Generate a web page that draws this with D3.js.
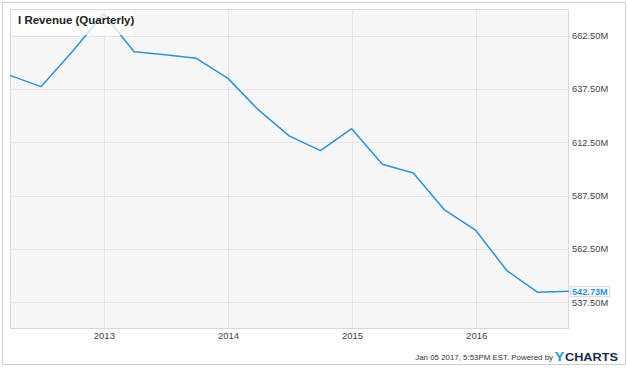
<!DOCTYPE html>
<html>
<head>
<meta charset="utf-8">
<script src="https://cdn.jsdelivr.net/npm/d3@7"></script>
<style>
  html, body { margin: 0; padding: 0; background: #ffffff; }
  svg { display: block; font-family: "Liberation Sans", Arial, sans-serif; }
</style>
</head>
<body>
<svg id="chart" width="628" height="368"></svg>
<script>
// ---- data ----
const quarterDates = [
  "2012-03-31","2012-06-30","2012-09-30","2012-12-31",
  "2013-03-31","2013-06-30","2013-09-30","2013-12-31",
  "2014-03-31","2014-06-30","2014-09-30","2014-12-31",
  "2015-03-31","2015-06-30","2015-09-30","2015-12-31",
  "2016-03-31","2016-06-30","2016-09-30"
];
const revenueM = [
  643.9, 638.6, 655.0, 672.8,
  655.0, 653.6, 651.9, 642.6,
  627.8, 615.5, 608.6, 618.9,
  602.2, 598.1, 580.8, 571.2,
  552.4, 542.2, 542.73
];
const yTickValues = [537.5, 562.5, 587.5, 612.5, 637.5, 662.5];
const xTickYears = [2013, 2014, 2015, 2016];
const titleText = "I Revenue (Quarterly)";
const lastLabel = "542.73M";
const footerText = "Jan 05 2017, 5:53PM EST. Powered by ";

// ---- layout ----
const svg = d3.select("#chart");
const plot = { left: 10, right: 569, top: 9, bottom: 329 };
const parse = d3.utcParse("%Y-%m-%d");
const data = quarterDates.map((d, i) => ({ date: parse(d), value: revenueM[i] }));

const x = d3.scaleUtc()
  .domain([data[0].date, data[data.length - 1].date])
  .range([plot.left, plot.right]);
const y = d3.scaleLinear().domain([525, 675]).range([plot.bottom, plot.top]);

// outer frame
svg.append("rect")
  .attr("x", 2.5).attr("y", 2.5).attr("width", 623).attr("height", 362)
  .attr("fill", "#ffffff").attr("stroke", "#cfcfcf").attr("stroke-width", 1);

// plot background
svg.append("rect")
  .attr("x", plot.left).attr("y", plot.top)
  .attr("width", plot.right - plot.left).attr("height", plot.bottom - plot.top)
  .attr("fill", "#f7f7f7");

// gridlines
const grid = svg.append("g");
grid.selectAll("line.h").data(yTickValues).join("line")
  .attr("x1", plot.left).attr("x2", plot.right)
  .attr("y1", d => Math.round(y(d)) + 0.5).attr("y2", d => Math.round(y(d)) + 0.5)
  .attr("stroke", "#e6e6e6").attr("stroke-width", 1);
const xTicks = xTickYears.map(yr => new Date(Date.UTC(yr, 0, 1)));
grid.selectAll("line.v").data(xTicks).join("line")
  .attr("y1", plot.top).attr("y2", plot.bottom)
  .attr("x1", d => Math.round(x(d)) + 0.5).attr("x2", d => Math.round(x(d)) + 0.5)
  .attr("stroke", "#e6e6e6").attr("stroke-width", 1);

// plot border
svg.append("rect")
  .attr("x", plot.left + 0.5).attr("y", plot.top + 0.5)
  .attr("width", plot.right - plot.left - 1).attr("height", plot.bottom - plot.top - 1)
  .attr("fill", "none").attr("stroke", "#d8d8d8").attr("stroke-width", 1);

// y axis (right)
const yAxis = d3.axisRight(y).tickValues(yTickValues)
  .tickFormat(d => d3.format(".2f")(d) + "M").tickSize(0).tickPadding(3);
const gy = svg.append("g").attr("transform", `translate(${plot.right},0)`).call(yAxis);
gy.select(".domain").remove();
gy.selectAll("text").attr("fill", "#444").attr("font-size", "9.3px")
  .attr("font-family", "Liberation Sans, Arial, sans-serif");

// x axis
const xAxis = d3.axisBottom(x).tickValues(xTicks)
  .tickFormat(d3.utcFormat("%Y")).tickSize(0).tickPadding(3);
const gx = svg.append("g").attr("transform", `translate(0,${plot.bottom})`).call(xAxis);
gx.select(".domain").remove();
gx.selectAll("text").attr("fill", "#444").attr("font-size", "9.5px")
  .attr("font-family", "Liberation Sans, Arial, sans-serif");

// line
const line = d3.line().x(d => x(d.date)).y(d => y(d.value));
svg.append("path").datum(data)
  .attr("d", line)
  .attr("fill", "none")
  .attr("stroke", "#2b91e6")
  .attr("stroke-width", 1.5)
  .attr("stroke-linejoin", "round");

// title box
svg.append("rect")
  .attr("x", plot.left + 1).attr("y", plot.top + 1).attr("width", 122).attr("height", 25)
  .attr("fill", "#ffffff").attr("fill-opacity", 0.75);
svg.append("text")
  .attr("x", 18).attr("y", 23.5)
  .attr("font-size", "11.5px").attr("font-weight", "bold").attr("fill", "#222")
  .text(titleText);

// last value label
const last = data[data.length - 1];
const ly = y(last.value);
svg.append("rect")
  .attr("x", 570.5).attr("y", ly - 4.5).attr("width", 39).attr("height", 10)
  .attr("fill", "#ffffff").attr("stroke", "#cfd8e0").attr("stroke-width", 1);
svg.append("text")
  .attr("x", 572).attr("y", ly + 3.5)
  .attr("font-size", "9.2px").attr("font-weight", "bold").attr("fill", "#2b91e6")
  .text(lastLabel);

// footer
svg.append("text")
  .attr("x", 553).attr("y", 359.5).attr("text-anchor", "end")
  .attr("font-size", "7.9px").attr("fill", "#333")
  .text(footerText.trim());
svg.append("text")
  .attr("x", 554.5).attr("y", 360.5)
  .attr("font-size", "13px").attr("font-weight", "bold").attr("fill", "#1a9be6")
  .attr("textLength", 10).attr("lengthAdjust", "spacingAndGlyphs")
  .text("Y");
svg.append("text")
  .attr("x", 565).attr("y", 360.5)
  .attr("font-size", "11.5px").attr("font-weight", "bold").attr("fill", "#1d2b4c")
  .attr("textLength", 53).attr("lengthAdjust", "spacingAndGlyphs")
  .text("CHARTS");
</script>
</body>
</html>
